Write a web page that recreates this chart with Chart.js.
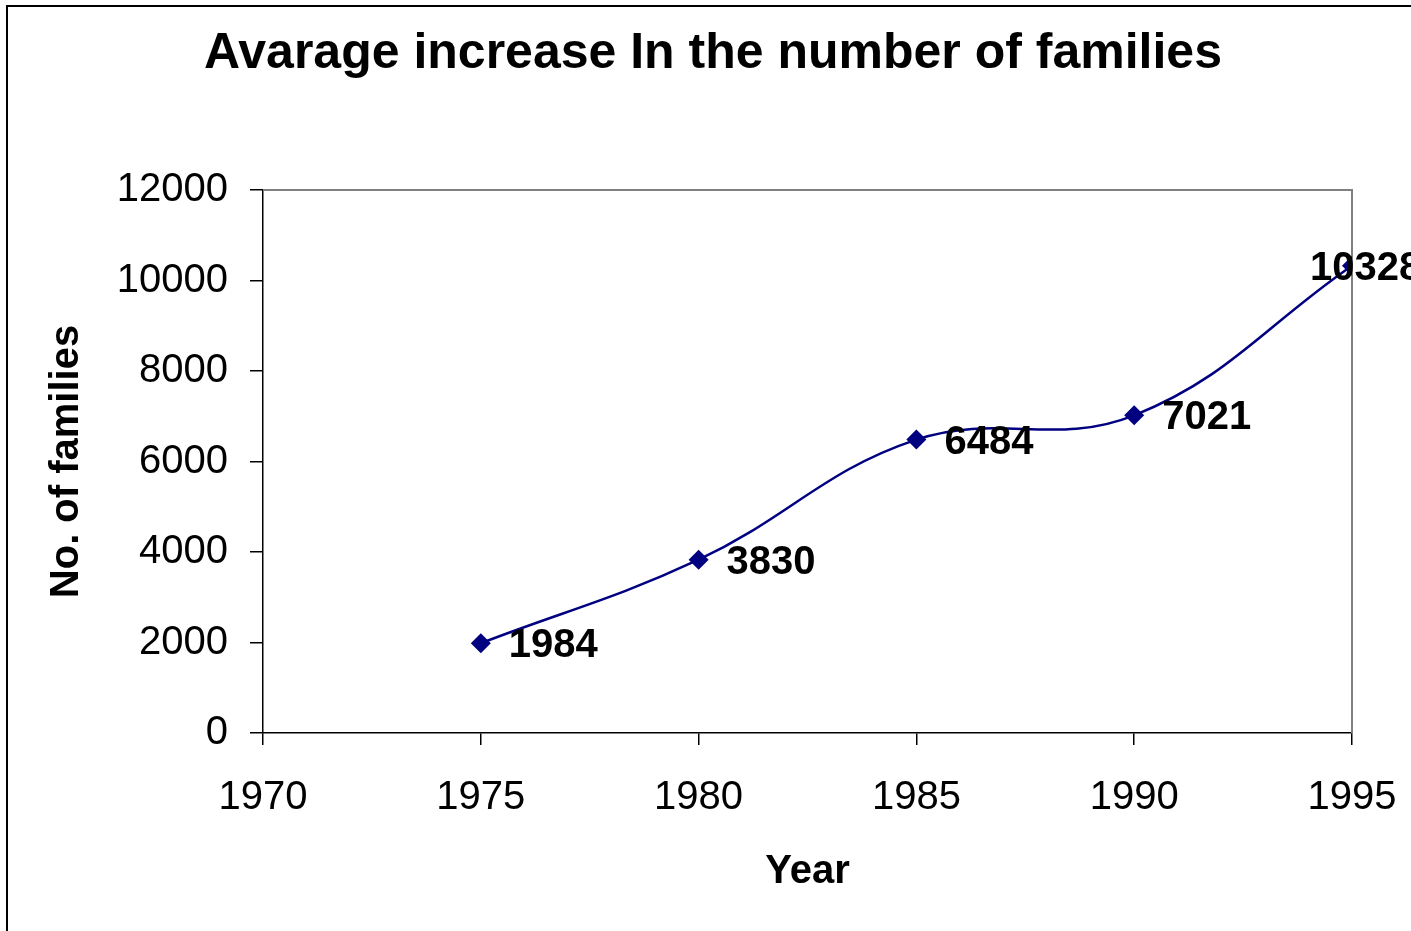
<!DOCTYPE html>
<html>
<head>
<meta charset="utf-8">
<script src="https://cdn.jsdelivr.net/npm/chart.js@4.4.1/dist/chart.umd.min.js"></script>
<style>
    html, body { margin: 0; padding: 0; background: #fff; }
    canvas { display: block; }
</style>
</head>
<body>
<canvas id="myChart" width="1411" height="931"></canvas>
<script>
// data
const years = [1975, 1980, 1985, 1990, 1995];
const families = [1984, 3830, 6484, 7021, 10328];
const xTicks = [1970, 1975, 1980, 1985, 1990, 1995];
const yTicks = [0, 2000, 4000, 6000, 8000, 10000, 12000];

const FONT = '"Liberation Sans", Arial, Helvetica, sans-serif';
const NAVY = '#000080';

// outer frame, title, plot frame and point labels
const decor = {
    id: 'decor',
    beforeDraw(chart) {
        const ctx = chart.ctx;
        ctx.save();
        ctx.fillStyle = '#fff';
        ctx.fillRect(0, 0, chart.width, chart.height);
        ctx.strokeStyle = '#000';
        ctx.lineWidth = 2;
        ctx.strokeRect(7, 6, chart.width + 20, chart.height + 20);

        ctx.fillStyle = '#000';
        ctx.font = 'bold 50px ' + FONT;
        ctx.textAlign = 'center';
        ctx.textBaseline = 'middle';
        ctx.fillText('Avarage increase In the number of families', 713, 54);
        ctx.restore();
    },
    beforeDatasetsDraw(chart) {
        const { ctx, chartArea: a } = chart;
        ctx.save();
        ctx.strokeStyle = '#808080';
        ctx.lineWidth = 2;
        ctx.beginPath();
        ctx.moveTo(a.left, a.top);
        ctx.lineTo(a.right, a.top);
        ctx.lineTo(a.right, a.bottom);
        ctx.stroke();
        ctx.restore();
    },
    afterDatasetsDraw(chart) {
        const ctx = chart.ctx;
        const meta = chart.getDatasetMeta(0);
        ctx.save();
        ctx.fillStyle = '#000';
        ctx.font = 'bold 40px ' + FONT;
        ctx.textAlign = 'left';
        ctx.textBaseline = 'middle';
        meta.data.forEach((pt, i) => {
            const txt = String(families[i]);
            let x = pt.x + 28;
            if (pt.x >= chart.chartArea.right - 1) x = pt.x - 42;
            ctx.fillText(txt, x, pt.y + 3);
        });
        ctx.restore();
    }
};

const ctx = document.getElementById('myChart').getContext('2d');
const myChart = new Chart(ctx, {
    type: 'line',
    data: {
        datasets: [{
            data: years.map((y, i) => ({ x: y, y: families[i] })),
            borderColor: NAVY,
            backgroundColor: NAVY,
            borderWidth: 2.5,
            tension: 0.4,
            pointStyle: 'rectRot',
            pointRadius: 10,
            pointHoverRadius: 10,
            pointBorderWidth: 0,
            fill: false
        }]
    },
    options: {
        responsive: false,
        animation: false,
        layout: {
            padding: { top: 190, right: 59, bottom: 0, left: 0 }
        },
        plugins: {
            legend: { display: false },
            tooltip: { enabled: false },
            title: { display: false }
        },
        scales: {
            x: {
                type: 'linear',
                min: 1970,
                max: 1995,
                afterBuildTicks: (scale) => { scale.ticks = xTicks.map(v => ({ value: v })); },
                afterFit: (scale) => {
                    scale.height = 198;
                    scale.paddingLeft = 0;
                    scale.paddingRight = 0;
                },
                grid: {
                    display: true,
                    drawOnChartArea: false,
                    drawTicks: true,
                    tickLength: 12,
                    color: '#000',
                    lineWidth: 1.5
                },
                border: { display: true, color: '#000', width: 1.5 },
                ticks: {
                    color: '#000',
                    padding: 29,
                    maxRotation: 0,
                    font: { size: 40, family: FONT },
                    callback: (v) => String(v)
                },
                title: {
                    display: true,
                    text: 'Year',
                    color: '#000',
                    padding: { top: 0, bottom: 35 },
                    font: { size: 40, weight: 'bold', family: FONT }
                }
            },
            y: {
                type: 'linear',
                min: 0,
                max: 12000,
                afterBuildTicks: (scale) => { scale.ticks = yTicks.map(v => ({ value: v })); },
                afterFit: (scale) => {
                    scale.width = 263;
                    scale.paddingTop = 0;
                    scale.paddingBottom = 0;
                },
                grid: {
                    display: true,
                    drawOnChartArea: false,
                    drawTicks: true,
                    tickLength: 13,
                    color: '#000',
                    lineWidth: 1.5
                },
                border: { display: true, color: '#000', width: 1.5 },
                ticks: {
                    color: '#000',
                    padding: 22,
                    font: { size: 40, family: FONT },
                    callback: (v) => String(v)
                },
                title: {
                    display: true,
                    text: 'No. of families',
                    color: '#000',
                    padding: { top: 43, bottom: 0 },
                    font: { size: 40, weight: 'bold', family: FONT }
                }
            }
        }
    },
    plugins: [decor]
});
</script>
</body>
</html>
